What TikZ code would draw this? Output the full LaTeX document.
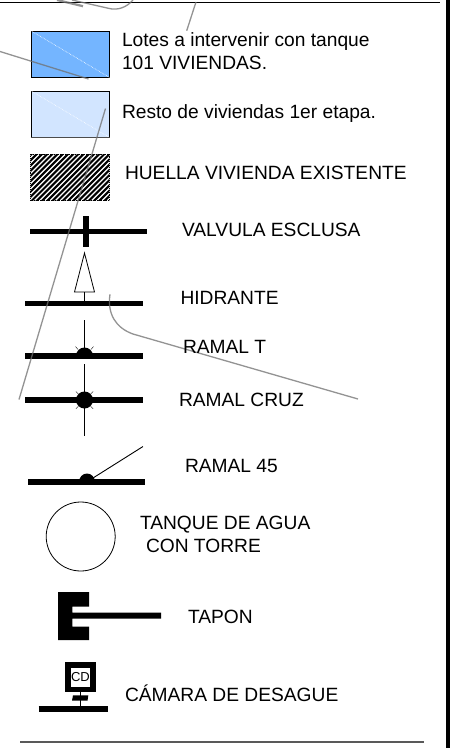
\documentclass[tikz,border=0pt]{standalone}
\usepackage{fontspec}
\setmainfont{Liberation Sans}
\definecolor{lotblue}{HTML}{74B5FF}
\definecolor{lotpale}{HTML}{D2E5FF}
\definecolor{leader}{HTML}{707070}
\tikzset{
  lbl/.style={anchor=base west,inner sep=0pt,outer sep=0pt,font=\fontsize{19.2}{22}\selectfont,text=black},
  swatch/.style={draw=black,line width=0.9pt,minimum width=78pt,minimum height=46pt,inner sep=0pt,anchor=north west},
  diag/.style={draw=white,line width=0.6pt,densely dotted},
  pipe/.style={draw=black,line width=5.6pt},
  thin pipe/.style={draw=black,line width=0.9pt},
  stray/.style={draw=leader,line width=1.3pt,opacity=.75},
  rulestyle/.style={draw=#1,line width=1.1pt},
  spike/.style={draw=black,line width=0.35pt}
}
\begin{document}
\begin{tikzpicture}[x=1pt,y=-1pt]
\useasboundingbox (0,0) rectangle (450,748);
\fill[white] (0,0) rectangle (450,748);
\fill[black] (446,0) rectangle (450,748);
% rules
\coordinate (ruleTL) at (0,2.5); \coordinate (ruleTR) at (440,2.5);
\coordinate (ruleBL) at (20,742); \coordinate (ruleBR) at (424,742);
\draw[rulestyle=black] (ruleTL) -- (ruleTR);
\draw[rulestyle=black!65,line width=1.4pt] (ruleBL) -- (ruleBR);
% swatches
\node[swatch,fill=lotblue] (sw1) at (30.5,30.5) {};
\draw[diag] (sw1.north west) -- (sw1.south east);
\node[swatch,fill=lotpale] (sw2) at (30.5,90.5) {};
\draw[diag] (sw2.north west) -- (sw2.south east);
\draw[draw=black!70,line width=1.2pt] (sw2.south west) -- (sw2.south east);
\node[swatch,draw=none,fill=white] (sw3) at (30.5,154) {};
\begin{scope}
\clip (sw3.south west) rectangle (sw3.north east);
\foreach \i in {-10,...,16} \draw[black,line width=2.1pt] (30.5+5.2*\i,202) -- (30.5+5.2*\i+50,152);
\end{scope}
\draw[black,line width=0.9pt,densely dotted] (sw3.south west) rectangle (sw3.north east);
% valve
\coordinate (vA) at (30,231.5); \coordinate (vB) at (147,231.5);
\coordinate (vC) at (86,216); \coordinate (vD) at (86,247);
\draw[pipe] (vA) -- (vB);
\draw[pipe] (vC) -- (vD);
% hydrant
\coordinate (hA) at (25,303.5); \coordinate (hB) at (142.5,303.5);
\coordinate (hT) at (84.5,253); \coordinate (hL) at (74.5,292); \coordinate (hR) at (94.5,292); \coordinate (hM) at (84.5,292); \coordinate (hN) at (84.5,303.5);
\draw[draw=black,line width=0.8pt,fill=white] (hT) -- (hL) -- (hR) -- cycle;
\draw[thin pipe,line width=0.8pt] (hM) -- (hN);
\draw[pipe] (hA) -- (hB);
% ramal T
\coordinate (tA) at (25,356); \coordinate (tB) at (142.5,356); \coordinate (tC) at (84.5,320); \coordinate (tD) at (84.5,356);
\draw[thin pipe] (tC) -- (tD);
\draw[pipe] (tA) -- (tB);
\fill[black] (76,356) arc[start angle=180,end angle=360,x radius=8.5,y radius=8.5] -- cycle;
\draw[spike] (78,349.5) -- (75.5,346.5);
\draw[spike] (91,349.5) -- (93.5,346.5);
% ramal cruz
\coordinate (cA) at (25,400); \coordinate (cB) at (142.5,400); \coordinate (cC) at (84.5,364); \coordinate (cD) at (84.5,435.5);
\draw[thin pipe] (cC) -- (cD);
\draw[pipe] (cA) -- (cB);
\node[circle,fill=black,minimum size=17pt,inner sep=0pt] (cdot) at (84.5,400) {};
\foreach \a in {45,135,225,315} \draw[spike] (cdot.\a) -- ++(\a:3.5pt);
% ramal 45
\coordinate (rA) at (28,482); \coordinate (rB) at (145,482); \coordinate (rC) at (93,478); \coordinate (rD) at (143,446.5);
\draw[thin pipe] (rC) -- (rD);
\draw[pipe,line width=6pt] (rA) -- (rB);
\fill[black] (79,482) arc[start angle=180,end angle=360,x radius=8,y radius=8.5] -- cycle;
% tank
\node[circle,draw=black,line width=0.8pt,minimum size=69pt,inner sep=0pt] (tank) at (80.7,536.5) {};
% tapon
\fill[black] (58,592) -- (89,592) -- (89,606.7) -- (72.3,606.7) -- (72.3,612.7) -- (161,612.7) -- (161,618.7) -- (72.3,618.7) -- (72.3,626.7) -- (89,626.7) -- (89,640) -- (58,640) -- cycle;
% camara
\coordinate (kA) at (38.7,709); \coordinate (kB) at (108,709); \coordinate (kS) at (80.3,692); \coordinate (kT) at (80.3,707);
\draw[pipe,line width=6pt] (kA) -- (kB);
\draw[thin pipe] (kS) -- (kT);
\fill[black] (73,695.3) -- (88.3,695.3) -- (87.5,700.7) -- (72,700.7) -- cycle;
\node[draw=black,line width=5.5pt,fill=white,minimum width=25pt,minimum height=24.5pt,inner sep=0pt,font=\fontsize{13}{14}\selectfont] (cd) at (80.5,677.3) {CD};
% stray leaders
\coordinate (s1a) at (0,51.5); \coordinate (s1b) at (88.5,79);
\coordinate (s2a) at (105.5,108.5); \coordinate (s2b) at (19,399.5);
\coordinate (s3a) at (196,2); \coordinate (s3b) at (186.7,30.7);
\coordinate (s4a) at (110,294.3); \coordinate (s4b) at (133,334); \coordinate (s4c) at (358,399);
\coordinate (s5a) at (57,0); \coordinate (s5b) at (83,6.2);
\coordinate (s6a) at (72,0); \coordinate (s6b) at (108,8.2); \coordinate (s6c) at (133,0);
\draw[stray] (s1a) -- (s1b);
\draw[stray] (s2a) -- (s2b);
\draw[stray] (s3a) -- (s3b);
\draw[stray] (s4a) .. controls (107,314) and (116,328) .. (s4b) -- (s4c);
\begin{scope}
\clip (0,0) rectangle (446,30);
\draw[stray,line width=2.2pt] (s5a) -- (s5b);
\draw[stray] (s6a) -- (s6b) .. controls (118,11) and (127,7) .. (s6c);
\end{scope}
% labels
\node[lbl] (t1) at (122,46) {Lotes a intervenir con tanque};
\node[lbl] (t1b) at (122,69.5) {101 VIVIENDAS.};
\node[lbl] (t2) at (122,118.5) {Resto de viviendas 1er etapa.};
\node[lbl] (t3) at (125,179) {HUELLA VIVIENDA EXISTENTE};
\node[lbl] (t4) at (182,236.7) {VALVULA ESCLUSA};
\node[lbl] (t5) at (180.5,304) {HIDRANTE};
\node[lbl] (t6) at (183,353.5) {RAMAL T};
\node[lbl] (t7) at (179,406) {RAMAL CRUZ};
\node[lbl] (t8) at (185,472.7) {RAMAL 45};
\node[lbl] (t9) at (140,529.3) {TANQUE DE AGUA};
\node[lbl] (t9b) at (146,552.7) {CON TORRE};
\node[lbl] (t10) at (188,623) {TAPON};
\node[lbl] (t11) at (125,701) {CÁMARA DE DESAGUE};
\end{tikzpicture}
\end{document}
